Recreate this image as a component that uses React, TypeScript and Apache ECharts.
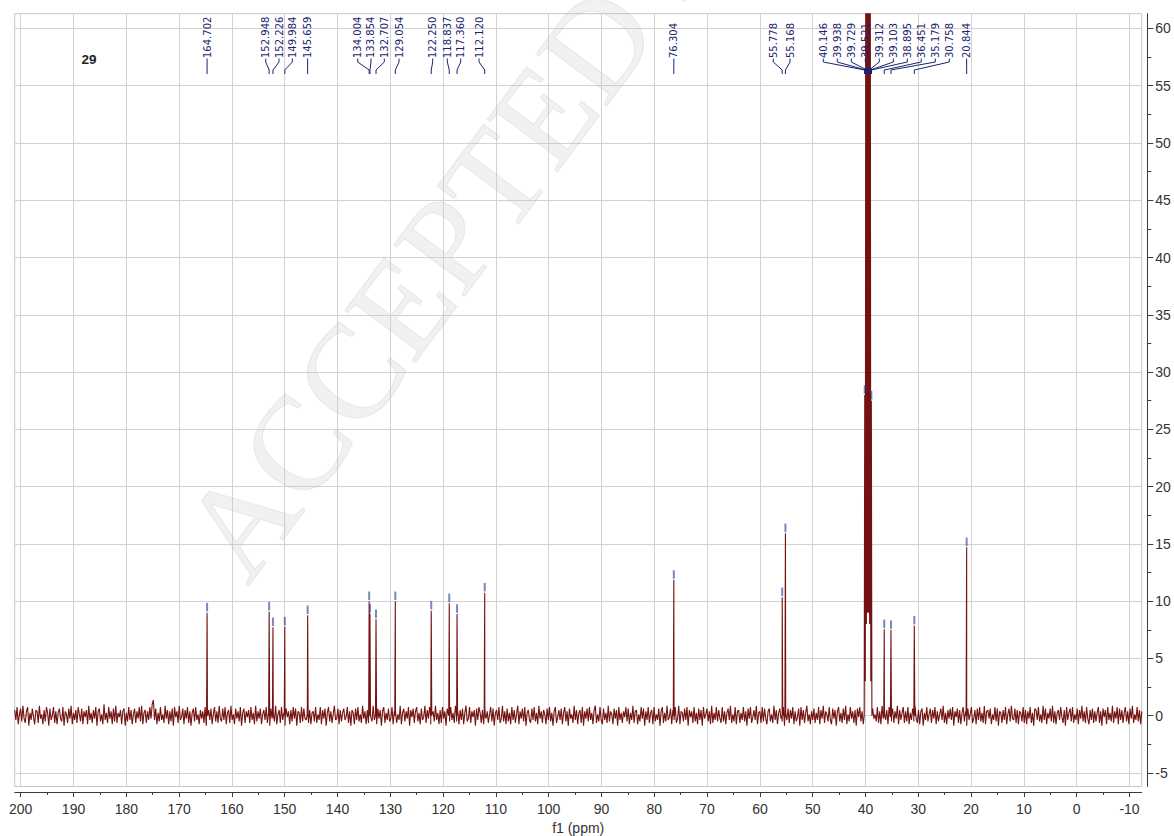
import React, { useEffect, useRef } from 'react';
import * as echarts from 'echarts';

// ---- axis ranges and tick values ----
const X_MIN = -12.31;
const X_MAX = 201.14;
const Y_MIN = -6.18;
const Y_MAX = 61.29;
const X_MAJOR = [200, 190, 180, 170, 160, 150, 140, 130, 120, 110, 100, 90, 80, 70, 60, 50, 40, 30, 20, 10, 0, -10];
const X_MINOR = [195, 185, 175, 165, 155, 145, 135, 125, 115, 105, 95, 85, 75, 65, 55, 45, 35, 25, 15, 5, -5];
const Y_MAJOR = [-5, 0, 5, 10, 15, 20, 25, 30, 35, 40, 45, 50, 55, 60];
const Y_MINOR = [-2.5, 2.5, 7.5, 12.5, 17.5, 22.5, 27.5, 32.5, 37.5, 42.5, 47.5, 52.5, 57.5];

// ---- peaks (ppm, intensity) ----
const PEAK_PPM = [164.702, 152.948, 152.226, 149.984, 145.659, 134.004, 133.854, 132.707, 129.054, 122.25, 118.837, 117.36, 112.12, 76.304, 55.778, 55.168, 36.451, 35.179, 30.758, 20.844];
const PEAK_HEIGHT = [9.0, 9.08, 7.72, 7.77, 8.77, 9.99, 8.9, 8.42, 9.99, 9.17, 9.81, 8.88, 10.74, 11.85, 10.34, 15.92, 7.54, 7.48, 7.86, 14.7];

// DMSO-d6 solvent multiplet
const SOLVENT_PPM = [40.146, 39.938, 39.729, 39.521, 39.312, 39.103, 38.895];
const SOLVENT_HEIGHT = [28, 75, 140, 170, 140, 75, 27.5];
const SOLVENT_DIP_PPM = [40.04, 39.83, 39.62, 39.42, 39.21, 39.0];
const SOLVENT_DIP = [3, 8, 9, 9, 8, 3];
const SOLVENT_EDGE_PPM = [40.25, 38.79];
const SOLVENT_CENTER = 39.521;

// baseline noise, in steps of NOISE_UNIT, sampled from 201.14 ppm every 0.2226 ppm
const NOISE_START = 201.14;
const NOISE_STEP = 0.2226;
const NOISE_UNIT = 0.125;
const NOISE = [
  4,-3,6,-6,1,5,-4,7,-2,-5,3,6,-7,2,-3,5,-1,-6,4,3,
  -5,7,-2,1,-6,4,-4,6,2,-7,5,-3,0,6,-5,3,-6,2,5,-2,
  -4,6,-7,3,1,-5,5,-2,7,-6,2,-3,4,-5,6,1,-4,5,-6,3,
  -1,4,-6,7,-3,2,-5,4,-2,6,-7,3,5,-4,1,-6,8,-3,2,-5,
  6,-2,3,-6,5,-4,7,-5,2,-1,4,-6,3,5,-7,2,-4,6,-3,4,
  -6,1,5,-5,3,-2,6,-4,7,-6,2,4,-5,3,-3,6,-2,8,11,-3,
  5,-6,2,-4,6,-3,1,-5,7,-2,4,-6,3,-4,5,-7,6,-1,3,-5,
  7,-3,-1,5,-6,4,-2,6,-5,3,-7,2,5,-4,6,-3,1,-6,4,-2,
  3,-5,6,-7,2,4,-3,5,-6,1,6,-4,3,-5,7,-2,-4,5,-3,6,
  -6,2,4,-5,7,-3,1,-6,5,-2,3,-4,6,-7,2,5,-5,3,-1,4,
  -5,6,-3,2,-6,7,-4,3,-2,5,-6,1,4,-3,6,-5,2,-7,5,-2,
  3,-4,7,-6,1,4,-5,6,-3,2,-7,5,-1,3,-6,4,-4,6,-2,5,
  -7,3,2,-5,6,-4,5,-2,-3,7,-5,4,-6,2,3,-4,6,-5,1,-3,
  6,-6,4,-2,5,-7,2,6,-4,3,-5,1,7,-3,-2,5,-6,4,-4,2,
  5,-3,-1,6,-5,3,-7,4,2,-6,5,-3,6,-4,1,-5,7,-2,3,-6,
  4,-5,6,-1,-4,7,-3,2,-6,5,-2,4,-7,3,6,-5,2,-3,5,-4,
  -2,6,-6,3,4,-5,1,-3,7,-6,2,5,-4,3,-2,6,-7,4,-1,5,
  -5,3,6,-4,2,-6,5,-3,-1,7,-5,4,-2,6,-6,1,3,-4,7,-3,
  2,-6,4,-5,6,-2,3,-7,5,1,-4,6,-3,2,-5,7,-4,3,-6,4,
  -3,5,-6,2,7,-4,-2,6,-5,3,-1,4,-7,5,-3,6,2,-5,4,-6,
  6,-2,3,-5,1,6,-4,5,-7,2,4,-3,6,-5,-2,7,-4,3,-6,5,
  -4,2,-6,6,-3,4,-5,1,7,-6,3,-2,5,-4,6,-7,2,4,-3,-5,
  5,-3,6,-4,2,-6,7,-2,3,-5,4,1,-6,5,-3,6,-4,2,-7,3,
  6,-5,-1,4,-3,5,-6,2,6,-4,3,-7,5,-2,1,-5,7,-3,4,-6,
  2,4,-5,6,-7,3,-2,5,-4,6,-3,2,-6,4,7,-5,1,-4,6,-3,
  -6,5,-3,2,-5,7,-4,3,1,-6,5,-2,4,-7,6,-3,2,-5,3,-1,
  6,-4,5,-6,2,-3,7,-5,3,4,-6,1,-4,6,-2,5,-7,3,-3,6,
  -5,2,4,-6,6,-4,1,-3,5,-7,3,6,-5,2,-4,7,-3,-1,5,-6,
  4,-3,6,-5,-2,7,-6,3,2,-4,5,-3,6,-7,4,-1,3,-5,6,-4,
  2,-6,5,-3,4,-7,6,-2,1,5,-4,3,-6,7,-5,2,-3,6,-4,4,
  -2,-5,6,-4,3,-6,2,5,-3,7,-5,1,-4,6,-6,3,4,-5,2,-3,
  6,-4,3,-7,5,-2,6,-5,-1,4,-3,7,-6,2,3,-5,6,-4,5,-2,
  -6,3,5,-4,1,-5,7,-3,4,-6,2,5,-2,-4,6,-7,3,-3,5,-5,
  4,-2,6,-6,3,-4,-1,5,-7,6,-3,4,-5,2,7,-4,1,-6,3,-3,
  5,-5,2,-3,6,-6,4,-2,7,-5,3,1,-4,6,-3,-6,5,-2,4,-7,
  3,6,-4,2,-5,5,-3,7,-6,1,-4,6,-2,3,-5,4,-7,5,-1,6,
  -4,3,-6,5,2,-5,6,-3,4,-7,5,-2,1,-4,6,-5,3,-6,7,-2,
  5,-3,4,-6,6,-1,-4,5,-5,3,-2,7,-6,4,-3,2,6,-5,3,-4,
  6,-6,2,-3,5,-4,7,-2,-5,4,-6,3,5,-7,2,-3,6,-4,1,5,
  -5,4,-2,6,-6,3,-4,1,5,-3,7,-5,2,-6,4,-2,5,-3,6,-7,
  3,-1,5,-5,4,-6,2,6,-4,3,-7,5,-3,1,6,-5,-2,4,-6,5,
  -3,6,-4,2,-5,7,-6,3,4,-2,5,-6,1,-3,6,-4,5,-7,3,2,
  -5,4,-3,6,-6,1,5,-4,7,-2,-3,5,-5,4,-6,3,2,-4,6,-5,
  4,-6,3,-2,6,-5,2,-7,5,4,-3,6,-4,1,-5,7,-3,5,-6,2,
  -2,5,-4,7,-5,3,-6,2,4,-3,6,-1,-5,4,-7,6,-3,2,5,-4,
  6,-5,1,-3,5,-6,4,-2,7,-4,3,-5,6,-2,-6,4,-3,5,-5,3,
  -4,2,6,-5,3,-7,5,-1,4,-6,6,-3,2,-4,7,-5,3,-2,6,-6,
  5,-3,4,-5,2,6,-4,3,-6,5,-2,7,-5,1,-3,6,-4,4,-6,3
];

// ---- peak labels: text, peak they point to, and where the label sits (ppm) ----
const LABEL_PEAK = [164.702, 152.948, 152.226, 149.984, 145.659, 134.004, 133.854, 132.707, 129.054, 122.25, 118.837, 117.36, 112.12, 76.304, 55.778, 55.168, 40.146, 39.938, 39.729, 39.521, 39.312, 39.103, 38.895, 36.451, 35.179, 30.758, 20.844];
const LABEL_AT = [164.702, 153.6, 151.08, 148.56, 145.659, 136.17, 133.66, 131.14, 128.35, 121.97, 119.2, 116.67, 113.2, 76.304, 57.47, 54.3, 47.99, 45.34, 42.69, 40.04, 37.39, 34.73, 32.08, 29.43, 26.78, 24.13, 20.844];
const LABEL_SOLVENT = [0, 0, 0, 0, 0, 0, 0, 0, 0, 0, 0, 0, 0, 0, 0, 0, 1, 1, 1, 1, 1, 1, 1, 0, 0, 0, 0];

const COMPOUND = '29';
const X_NAME = 'f1 (ppm)';
const WATERMARK = 'ACCEPTED MANUSCRIPT';

const LINE_COLOR = '#741111';
const LABEL_COLOR = '#1a2470';
const AXIS_COLOR = '#3c3c3c';
const GRID_COLOR = '#d2d2d2';
const FONT = '"Liberation Sans", Arial, sans-serif';

function buildSpectrum(): number[][] {
  const inSolvent = (x: number) => x < SOLVENT_EDGE_PPM[0] && x > SOLVENT_EDGE_PPM[1];
  const pts: number[][] = [];
  NOISE.forEach((v, i) => {
    const x = NOISE_START - i * NOISE_STEP;
    if (!inSolvent(x)) pts.push([x, v * NOISE_UNIT]);
  });
  PEAK_PPM.forEach((p, i) => {
    pts.push([p + 0.1, 0], [p, PEAK_HEIGHT[i]], [p - 0.1, 0]);
  });
  SOLVENT_EDGE_PPM.forEach((p) => pts.push([p, 0]));
  SOLVENT_PPM.forEach((p, i) => pts.push([p, SOLVENT_HEIGHT[i]]));
  SOLVENT_DIP_PPM.forEach((p, i) => pts.push([p, SOLVENT_DIP[i]]));
  pts.sort((a, b) => b[0] - a[0]);
  return pts;
}

export default function App() {
  const ref = useRef<HTMLDivElement>(null);

  useEffect(() => {
    if (!ref.current) return;
    const chart = echarts.init(ref.current, undefined, { renderer: 'svg' });

    const spectrum = buildSpectrum();
    const markers = [
      ...PEAK_PPM.map((p, i) => [p, PEAK_HEIGHT[i]]),
      ...SOLVENT_PPM.map((p, i) => [p, SOLVENT_HEIGHT[i]]),
    ];
    const labelData = LABEL_PEAK.map((p, i) => [p, LABEL_AT[i], LABEL_SOLVENT[i]]);

    const xBase = {
      type: 'value',
      gridIndex: 0,
      min: X_MIN,
      max: X_MAX,
      inverse: true,
      position: 'bottom',
      offset: 5.5,
    };
    const yBase = {
      type: 'value',
      gridIndex: 0,
      min: Y_MIN,
      max: Y_MAX,
      position: 'right',
      offset: 5.6,
    };

    chart.setOption({
      animation: false,
      backgroundColor: '#ffffff',
      grid: {
        left: 14.7,
        right: 32.3,
        top: 13.7,
        bottom: 49.5,
        show: true,
        borderColor: '#c6c6c6',
        borderWidth: 1,
        containLabel: false,
        outerBoundsMode: 'none',
      },
      xAxis: [
        {
          ...xBase,
          name: X_NAME,
          nameLocation: 'middle',
          nameGap: 29,
          nameTextStyle: { fontSize: 14, color: '#333', fontFamily: FONT },
          axisLine: { show: true, onZero: false, lineStyle: { color: AXIS_COLOR, width: 1 } },
          axisTick: { show: true, length: 5, customValues: X_MAJOR, lineStyle: { color: AXIS_COLOR } },
          axisLabel: { show: true, customValues: X_MAJOR, fontSize: 14, color: '#333', fontFamily: FONT, margin: 10 },
          splitLine: { show: true, lineStyle: { color: GRID_COLOR, width: 1 } },
        },
        {
          ...xBase,
          axisLine: { show: false, onZero: false },
          axisTick: { show: true, length: 3, customValues: X_MINOR, lineStyle: { color: AXIS_COLOR } },
          axisLabel: { show: false },
          splitLine: { show: false },
        },
      ],
      yAxis: [
        {
          ...yBase,
          axisLine: { show: true, onZero: false, lineStyle: { color: AXIS_COLOR, width: 1 } },
          axisTick: { show: true, length: 6, customValues: Y_MAJOR, lineStyle: { color: AXIS_COLOR } },
          axisLabel: { show: true, customValues: Y_MAJOR, fontSize: 14, color: '#333', fontFamily: FONT, margin: 8 },
          splitLine: { show: true, lineStyle: { color: GRID_COLOR, width: 1 } },
        },
        {
          ...yBase,
          axisLine: { show: false, onZero: false },
          axisTick: { show: true, length: 4, customValues: Y_MINOR, lineStyle: { color: AXIS_COLOR } },
          axisLabel: { show: false },
          splitLine: { show: false },
        },
      ],
      graphic: [
        {
          type: 'text',
          x: 89,
          y: 59.5,
          z: 10,
          style: {
            text: COMPOUND,
            fill: '#222',
            fontSize: 13.5,
            fontWeight: 'bold',
            fontFamily: FONT,
            align: 'center',
            verticalAlign: 'middle',
          },
        },
        {
          type: 'text',
          x: 212,
          y: 560,
          rotation: 0.93,
          z: 100,
          silent: true,
          style: {
            text: WATERMARK,
            fill: 'rgba(200,200,200,0.26)',
            stroke: 'rgba(165,165,165,0.2)',
            lineWidth: 1,
            fontSize: 134,
            fontFamily: '"Liberation Serif", "DejaVu Serif", serif',
            align: 'left',
            verticalAlign: 'middle',
          },
        },
      ],
      series: [
        {
          type: 'line',
          xAxisIndex: 0,
          yAxisIndex: 0,
          data: spectrum,
          showSymbol: false,
          symbol: 'none',
          clip: true,
          silent: true,
          z: 2,
          lineStyle: { color: LINE_COLOR, width: 1.1 },
        },
        {
          type: 'scatter',
          xAxisIndex: 0,
          yAxisIndex: 0,
          data: markers,
          symbol: 'rect',
          symbolSize: [2, 8.5],
          symbolOffset: [0, -5.5],
          clip: true,
          silent: true,
          z: 3,
          itemStyle: { color: 'rgba(35,55,140,0.75)' },
        },
        {
          type: 'custom',
          xAxisIndex: 0,
          yAxisIndex: 0,
          data: labelData,
          silent: true,
          z: 5,
          renderItem: (params: any, api: any) => {
            const i = params.dataIndex;
            const peakX = api.coord([api.value(0), 0])[0];
            const labX = api.coord([api.value(1), 0])[0];
            const solvent = api.value(2) === 1;
            const endY = solvent ? 71.5 : 74;
            return {
              type: 'group',
              children: [
                {
                  type: 'text',
                  x: labX,
                  y: 58,
                  rotation: Math.PI / 2,
                  style: {
                    text: LABEL_PEAK[i].toFixed(3),
                    fill: LABEL_COLOR,
                    fontSize: 10,
                    fontFamily: '"DejaVu Sans", Verdana, sans-serif',
                    align: 'left',
                    verticalAlign: 'middle',
                  },
                },
                {
                  type: 'polyline',
                  shape: { points: [[labX, 58.5], [labX, 62], [peakX, 70], [peakX, endY]] },
                  style: { stroke: LABEL_COLOR, lineWidth: 1, fill: null },
                },
              ],
            };
          },
        },
        {
          type: 'custom',
          xAxisIndex: 0,
          yAxisIndex: 0,
          data: [[SOLVENT_CENTER]],
          silent: true,
          z: 6,
          renderItem: (_params: any, api: any) => {
            const cx = api.coord([api.value(0), 0])[0];
            return {
              type: 'rect',
              shape: { x: cx - 4, y: 68.5, width: 8, height: 5.5 },
              style: { fill: LABEL_COLOR },
            };
          },
        },
      ],
    } as any);

    return () => {
      chart.dispose();
    };
  }, []);

  return (
    <div
      ref={ref}
      style={{ position: 'fixed', left: 0, top: 0, width: 1174, height: 836, background: '#fff' }}
    />
  );
}
